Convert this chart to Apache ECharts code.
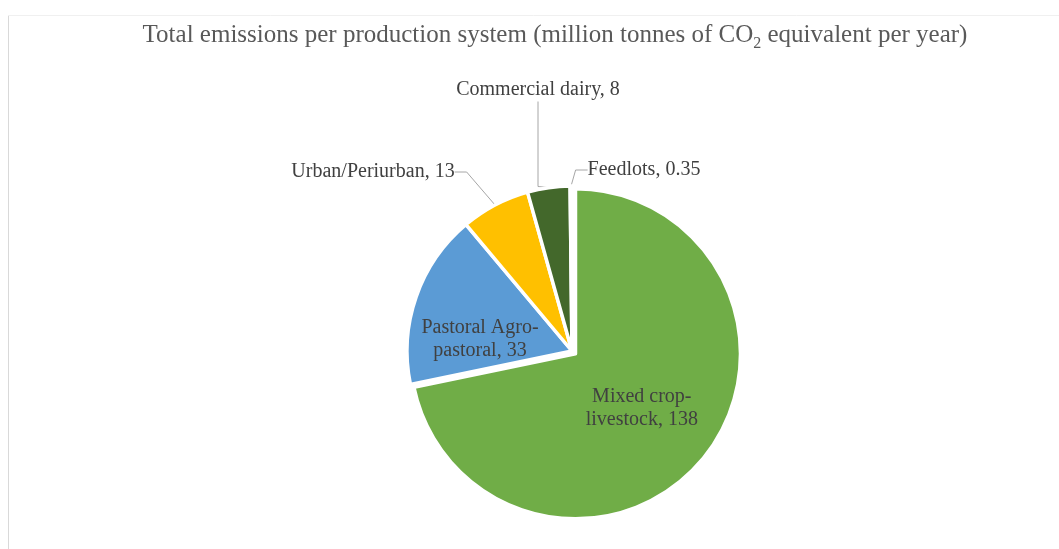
<!DOCTYPE html>
<html>
<head>
<meta charset="utf-8">
<script src="https://cdn.jsdelivr.net/npm/echarts@6/dist/echarts.min.js"></script>
<style>
  html, body { margin: 0; padding: 0; background: #ffffff; }
  #chart { width: 1059px; height: 549px; }
</style>
</head>
<body>
<div id="chart"></div>
<script>
// Production systems and their yearly emissions (Mt CO2-eq)
const systems = ['Mixed crop-livestock', 'Pastoral Agro-pastoral', 'Urban/Periurban', 'Commercial dairy', 'Feedlots'];
const emissions = [138, 33, 13, 8, 0.35];
const sliceColors = ['#70AD47', '#5B9BD5', '#FFC000', '#43682B', '#264478'];
const insideLabels = ['Mixed crop-livestock', 'Pastoral Agro-pastoral'];

// Label anchor points (centre of each label block)
const labelSpots = {
  'Mixed crop-livestock': [655, 403],
  'Pastoral Agro-pastoral': [480, 339],
  'Urban/Periurban': [373, 172],
  'Commercial dairy': [538, 90],
  'Feedlots': [644, 170]
};
// Straight run of each leader line next to its label
const leaderRun = { 'Urban/Periurban': 12, 'Commercial dairy': 85, 'Feedlots': 12 };

const serif = '"Liberation Serif", "Times New Roman", serif';

const chart = echarts.init(document.getElementById('chart'), null, { renderer: 'canvas' });

chart.setOption({
  animation: false,
  backgroundColor: '#ffffff',
  title: {
    text: 'Total emissions per production system (million tonnes of CO{sub|2} equivalent per year)',
    left: 555,
    textAlign: 'center',
    top: 19,
    padding: 0,
    textStyle: {
      fontFamily: serif,
      fontSize: 25,
      fontWeight: 'normal',
      color: '#595959',
      rich: {
        sub: { fontFamily: serif, fontSize: 16, color: '#595959', padding: [17, 0, 0, 0] }
      }
    }
  },
  graphic: [
    { type: 'line', silent: true, shape: { x1: 8.5, y1: 15, x2: 8.5, y2: 549 }, style: { stroke: '#d9d9d9', lineWidth: 1 } },
    { type: 'line', silent: true, shape: { x1: 8, y1: 15.5, x2: 1059, y2: 15.5 }, style: { stroke: '#f0f0f0', lineWidth: 1 } }
  ],
  series: [{
    type: 'pie',
    center: [572, 351],
    radius: 165,
    startAngle: 90,
    clockwise: true,
    selectedMode: 'single',
    selectedOffset: 4.5,
    avoidLabelOverlap: false,
    emphasis: { disabled: true },
    itemStyle: { borderColor: '#ffffff', borderWidth: 3.5 },
    label: {
      fontFamily: serif,
      fontSize: 20,
      lineHeight: 23,
      color: '#404040',
      formatter: p => (insideLabels.includes(p.name) ? p.name.replace('-', '-\n') : p.name) + ', ' + p.value
    },
    labelLine: {
      smooth: false,
      lineStyle: { color: '#a6a6a6', width: 1 }
    },
    labelLayout: p => {
      const s = labelSpots[systems[p.dataIndex]];
      return { x: s[0], y: s[1], align: 'center', verticalAlign: 'middle' };
    },
    data: systems.map((name, i) => {
      const inside = insideLabels.includes(name);
      return {
        name: name,
        value: emissions[i],
        selected: i === 0,
        itemStyle: { color: sliceColors[i] },
        label: { position: inside ? 'inside' : 'outside' },
        labelLine: { show: !inside, length2: leaderRun[name] || 0 }
      };
    })
  }]
});
</script>
</body>
</html>
